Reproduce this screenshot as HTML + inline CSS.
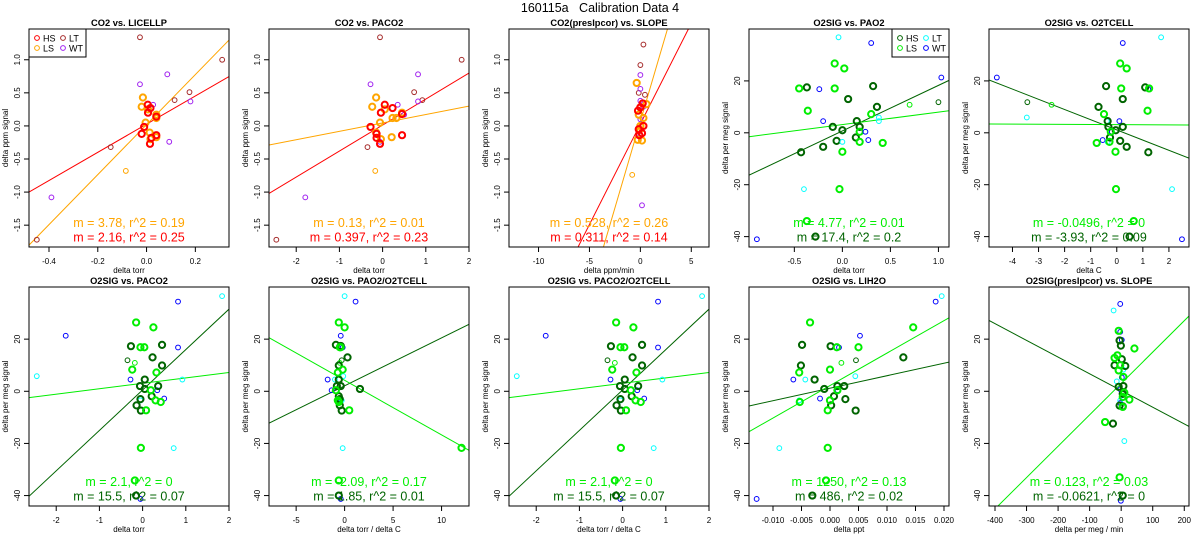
<!DOCTYPE html>
<html><head><meta charset="utf-8"><style>
html,body{margin:0;padding:0;background:#fff;}
svg{display:block;font-family:"Liberation Sans",sans-serif;}
</style></head><body>
<svg id="chart" width="1200" height="550" viewBox="0 0 1200 550">
<text x="600" y="12" text-anchor="middle" font-size="12.5" style="white-space:pre">160115a   Calibration Data 4</text>
</svg>
<script>
// groups: 0 HS thick, 1 LS thick, 2 LT thin, 3 WT thin, 4 HS thin, 5 LS thin
const co2Colors = ['#ff0000','#ffa500','#a52a2a','#a020f0','#ff0000','#ffa500'];
const o2Colors = ['#006400','#00ee00','#00ffff','#0000ff','#006400','#00ee00'];
const co2Legend = ['#ff0000','#ffa500','#a52a2a','#a020f0'];
const o2Legend = ['#006400','#00ee00','#00ffff','#0000ff'];

const p1Points = [[-0.027,1.34,2],[0.31,1.0,2],[0.176,0.51,2],[0.115,0.39,2],[-0.147,-0.32,2],[-0.45,-1.72,2],
[-0.027,0.63,3],[0.085,0.78,3],[0.18,0.37,3],[0.027,0.32,3],[0.093,-0.24,3],[-0.39,-1.08,3],
[-0.015,0.43,1],[-0.02,0.29,1],[0.006,0.25,1],[0.04,0.17,1],[0.04,0.12,1],[-0.004,0.05,1],[0.0125,-0.1,1],[0.016,-0.2,1],[0.04,-0.17,1],[-0.085,-0.68,5],
[0.005,0.32,0],[0.016,0.27,0],[0.006,0.2,0],[0.04,0.14,0],[-0.01,-0.015,0],[-0.02,-0.12,0],[0.014,-0.27,0],[0.04,-0.14,0],[0.02,-0.18,0]];
const p2Points = [[-0.06,1.34,2],[1.83,1.0,2],[0.73,0.51,2],[0.92,0.39,2],[-0.35,-0.32,2],[-2.46,-1.72,2],
[-0.28,0.63,3],[0.82,0.78,3],[0.82,0.37,3],[0.35,0.32,3],[0.5,0.17,3],[-0.06,-0.24,3],[-1.79,-1.08,3],
[-0.15,0.43,1],[-0.24,0.29,1],[0.05,0.25,1],[0.23,0.12,1],[0.32,0.12,1],[-0.06,0.05,1],[-0.15,-0.1,1],[-0.04,-0.2,1],[0.21,-0.17,1],[0.45,0.2,1],[-0.17,-0.68,5],
[0.05,0.32,0],[0.23,0.27,0],[-0.04,0.2,0],[0.45,0.18,0],[-0.28,-0.015,0],[-0.14,-0.12,0],[-0.06,-0.27,0],[0.45,-0.14,0],[-0.14,-0.18,0]];
const p3Points = [[0.3,1.23,2],[0,0.92,2],[-0.16,0.5,2],[0.45,0.47,2],
[0,0.77,3],[0,0.56,3],[0,0.38,3],[0.3,0.29,3],[0,0.1,3],[0,-0.15,3],[0.16,-1.2,3],
[-0.36,0.65,1],[0.6,0.33,1],[0,0.28,1],[0.3,0.12,1],[-0.16,0.17,1],[-0.1,-0.06,1],[-0.26,-0.21,1],[0.16,-0.22,1],[0,0,1],[-0.8,-0.74,5],
[0.23,0.34,0],[-0.23,0.23,0],[0.3,0,0],[-0.16,-0.05,0],[0.16,-0.11,0],[-0.1,-0.14,0],[0,0.28,0]];
const p4Points = [[-0.37,17.5,0],[0.32,18,0],[0.06,13,0],[0.36,10,0],[0.15,4.5,0],[-0.1,2.3,0],[0.18,2.3,0],[0,1,0],[0.14,-1.8,0],[-0.06,-3.1,0],[-0.2,-5.4,0],[-0.43,-7.5,0],[-0.28,-40,0],
[-0.08,26.7,1],[0.02,24.8,1],[-0.45,17.1,1],[-0.08,17.1,1],[-0.36,8.5,1],[0.3,7.2,1],[0.18,0.4,1],[0.18,-3.5,1],[0.42,-3.9,1],[0,-7.3,1],[-0.03,-21.7,1],[-0.37,-34,1],
[-0.04,36.8,2],[0.38,5.9,2],[0.38,4.5,2],[0,-3.5,2],[-0.4,-21.7,2],[1.0,11.8,4],[0.7,10.8,5],
[0.3,34.6,3],[1.03,21.3,3],[-0.24,16.8,3],[-0.2,4.5,3],[0.24,0.4,3],[0.27,-2.8,3],[-0.89,-41,3]];
const p5Points = [[-4.6,21.3,3],[0.23,34.6,3],[1.21,16.8,3],[0.1,4.5,3],[-0.19,0.4,3],[-0.54,-2.8,3],[2.5,-41,3],
[1.7,36.8,2],[-3.45,5.9,2],[-0.38,4.5,2],[-0.35,-3.5,2],[2.12,-21.7,2],[-3.43,11.8,4],[-2.5,10.8,5],
[-0.41,18,0],[1.09,17.5,0],[0.23,13,0],[-0.7,10,0],[-0.35,4.5,0],[-0.32,2.3,0],[0.23,2.3,0],[-0.04,1,0],[-0.26,-1.8,0],[0.13,-3.1,0],[0.38,-5.4,0],[1.21,-7.5,0],[0.49,-40,0],
[0.13,26.7,1],[0.38,24.8,1],[0.17,17.1,1],[1.24,17.1,1],[1.18,8.5,1],[-0.49,7.2,1],[-0.23,0.4,1],[-0.28,-3.5,1],[-0.77,-3.9,1],[-0.05,-7.3,1],[-0.03,-21.7,1],[0.65,-34,1]];
const p6Points = [[-1.78,21.3,3],[0.82,34.4,3],[0.82,16.8,3],[-0.28,4.5,3],[0.34,0.4,3],[0.5,-2.8,3],[-0.05,-41.3,3],
[1.84,36.5,2],[-2.45,5.8,2],[0.92,4.5,2],[-0.05,-3.5,2],[0.72,-21.8,2],[-0.35,11.9,4],[-0.18,10.9,5],
[-0.27,17.3,0],[0.45,17.8,0],[0.23,13,0],[0.45,9.9,0],[0.05,4.5,0],[-0.06,2,0],[0.36,2,0],[0.05,0.9,0],[0.21,-1.9,0],[-0.05,-3,0],[-0.14,-5.4,0],[-0.04,-7.4,0],[-0.15,-40,0],
[-0.15,26.4,1],[0.25,24.5,1],[-0.05,16.9,1],[0.04,16.9,1],[-0.24,8.3,1],[0.32,7.2,1],[0.19,0.4,1],[0.3,-3.5,1],[0.42,-4.1,1],[0.08,-7.3,1],[-0.04,-21.7,1],[-0.18,-34.2,1]];
const p7Points = [[-0.4,21.3,3],[1.13,34.4,3],[-0.2,16.8,3],[-1.75,4.5,3],[-1.34,0.4,3],[-0.6,-2.8,3],[-0.4,-41.3,3],
[0,36.5,2],[-0.14,5.8,2],[-1.0,4.5,2],[-0.3,-3.5,2],[-0.2,-21.8,2],[-0.3,11.9,4],[-0.5,10.9,5],
[-0.9,17.8,0],[-0.4,17.4,0],[0.3,13,0],[-0.6,9.9,0],[-0.6,4.5,0],[-0.8,2,0],[-0.4,2,0],[1.58,0.9,0],[-0.6,-1.9,0],[-0.5,-3,0],[-0.5,-5.4,0],[-0.3,-7.4,0],[-0.6,-40,0],
[-0.6,26.4,1],[0,24.5,1],[-0.5,16.9,1],[-0.4,16.9,1],[-0.2,8.3,1],[-0.7,7.2,1],[-0.9,0.4,1],[-0.7,-3.5,1],[-0.6,-4.1,1],[0.48,-7.3,1],[12.06,-21.7,1],[-0.6,-34.2,1]];
const p9Points = [[0.00526,21.3,3],[0.01854,34.4,3],[0.00158,16.8,3],[-0.00643,4.5,3],[0.00135,0.4,3],[-0.00175,-2.8,3],[-0.01287,-41.3,3],
[0.0196,36.5,2],[0.00444,5.8,2],[-0.00433,4.5,2],[-0.0054,-3.5,2],[-0.00889,-21.8,2],[0.00456,11.9,4],[0.002,10.9,5],
[0.0001,17.3,0],[-0.0049,17.8,0],[0.01287,13,0],[-0.0051,9.9,0],[-0.0027,4.5,0],[0.0013,2,0],[0.0025,2,0],[-0.001,0.9,0],[0.0007,-1.9,0],[0.0027,-3,0],[0.0002,-5.4,0],[0.0045,-7.4,0],[-0.0031,-40,0],
[-0.0035,26.4,1],[0.0146,24.5,1],[0.0012,16.9,1],[0.005,16.9,1],[-0.0054,7.2,1],[0,8.3,1],[0.0013,0.4,1],[0,-3.5,1],[-0.0053,-4.1,1],[-0.0004,-7.3,1],[-0.0004,-21.7,1],[-0.0007,-34.2,1]];
const p10Points = [[-3,33.5,3],[-3,22.8,3],[2,19.7,3],[2,5.3,3],[-3,0.8,3],[-3,-4.5,3],[-1,-42,3],
[-24,31,2],[7,8.3,2],[-14,3.8,2],[-3,-3.5,2],[10,-19.1,2],
[-5,19.5,0],[-1,17.5,0],[2,12.3,0],[-21,10,0],[13,9.7,0],[-8,1.7,0],[7,2,0],[5,-1,0],[-5,-5.5,0],[5,-5.8,0],[-26,-12.4,0],[5,-40,0],
[-8,23.2,1],[42,16.4,1],[-12,13.8,1],[-21,12.8,1],[-3,10,1],[7,5.5,1],[10,-0.5,1],[26,-3.2,1],[5,-2.2,1],[-51,-11.8,1],[-5,-33,1],[-8,8,1],[5,-6,1]];

// fit lines: [slope, intercept, colorIndex]
const p1Fits = [[2.13,0.027,0],[3.78,0.02,1]];
const p2Fits = [[0.393,0.013,0],[0.127,0.045,1]];
const p3Fits = [[0.304,0.03,0],[0.524,0.07,1]];
const p4Fits = [[17.55,0.72,0],[4.8,3.16,1]];
const p5Fits = [[-3.93,1.12,0],[-0.05,3.15,1]];
const p6Fits = [[15.5,0.5,0],[2.08,3.05,1]];
const p7Fits = [[1.84,2.1,0],[-2.095,4.22,1]];
const p9Fits = [[479,1.18,0],[1245,2.2,1]];
const p10Fits = [[-0.0641,0.3,0],[0.1203,3.0,1]];

const p1Labels = ['m = 3.78, r^2 = 0.19','m = 2.16, r^2 = 0.25'];
const p2Labels = ['m = 0.13, r^2 = 0.01','m = 0.397, r^2 = 0.23'];
const p3Labels = ['m = 0.528, r^2 = 0.26','m = 0.311, r^2 = 0.14'];
const p4Labels = ['m = 4.77, r^2 = 0.01','m = 17.4, r^2 = 0.2'];
const p5Labels = ['m = -0.0496, r^2 = 0','m = -3.93, r^2 = 0.09'];
const p6Labels = ['m = 2.1, r^2 = 0','m = 15.5, r^2 = 0.07'];
const p7Labels = ['m = -2.09, r^2 = 0.17','m = 1.85, r^2 = 0.01'];
const p9Labels = ['m = 1250, r^2 = 0.13','m = 486, r^2 = 0.02'];
const p10Labels = ['m = 0.123, r^2 = 0.03','m = -0.0621, r^2 = 0'];

const co2YTicks = [-1.5,-1.0,-0.5,0.0,0.5,1.0];
const co2YTickLabels = ['-1.5','-1.0','-0.5','0.0','0.5','1.0'];
const o2YTicks = [-40,-20,0,20];
const o2YTickLabels = ['-40','-20','0','20'];
const p1XTicks = [-0.4,-0.2,0,0.2]; const p1XTickLabels = ['-0.4','-0.2','0.0','0.2'];
const p2XTicks = [-2,-1,0,1,2]; const p2XTickLabels = ['-2','-1','0','1','2'];
const p3XTicks = [-10,-5,0,5]; const p3XTickLabels = ['-10','-5','0','5'];
const p4XTicks = [-0.5,0,0.5,1.0]; const p4XTickLabels = ['-0.5','0.0','0.5','1.0'];
const p5XTicks = [-4,-3,-2,-1,0,1,2]; const p5XTickLabels = ['-4','-3','-2','-1','0','1','2'];
const p7XTicks = [-5,0,5,10]; const p7XTickLabels = ['-5','0','5','10'];
const p9XTicks = [-0.01,-0.005,0,0.005,0.01,0.015,0.02]; const p9XTickLabels = ['-0.010','-0.005','0.000','0.005','0.010','0.015','0.020'];
const p10XTicks = [-400,-300,-200,-100,0,100,200]; const p10XTickLabels = ['-400','-300','-200','-100','0','100','200'];

const svg = document.getElementById('chart');
const NS = 'http://www.w3.org/2000/svg';
function mk(tag, attrs, parent){const e=document.createElementNS(NS,tag);for(const k in attrs)e.setAttribute(k,attrs[k]);(parent||svg).appendChild(e);return e;}

const colX = [29,269,509,749,989];
const rowY = [29,287];
const PW = 200, PH = [218,219];

function drawPanel(c){
  const x0=colX[c.col], y0=rowY[c.row], h=PH[c.row];
  const g = mk('g',{});
  
  
  const sx = v => x0 + (v - c.xlim[0])/(c.xlim[1]-c.xlim[0])*PW;
  const sy = v => y0 + h - (v - c.ylim[0])/(c.ylim[1]-c.ylim[0])*h;
  const cols = c.co2 ? co2Colors : o2Colors;
  const clipId = 'clip'+c.name;
  const cp = mk('clipPath',{id:clipId},g);
  mk('rect',{x:x0,y:y0,width:PW,height:h},cp);
  const t = mk('text',{x:x0+PW/2,y:y0-3,'text-anchor':'middle','font-size':'9.3','font-weight':'bold'},g);
  t.textContent = c.title;
  
  
  c.yt.forEach((v,i)=>{
    const y=sy(v);
    const tk = mk('line',{x1:x0-5,x2:x0,y1:y,y2:y,stroke:'#000','stroke-width':1},g);
    
    
    const lb = mk('text',{x:0,y:0,transform:`translate(${x0-9},${y}) rotate(-90)`,'text-anchor':'middle','font-size':'8'},g);
    lb.textContent = c.ytl[i];
    
    
  });
  mk('line',{x1:x0,x2:x0,y1:sy(c.yt[0]),y2:sy(c.yt[c.yt.length-1]),stroke:'#000'},g);
  c.xt.forEach((v,i)=>{
    const x=sx(v);
    const tk = mk('line',{x1:x,x2:x,y1:y0+h,y2:y0+h+5,stroke:'#000','stroke-width':1},g);
    
    
    const lb = mk('text',{x:x,y:y0+h+17,'text-anchor':'middle','font-size':'8'},g);
    lb.textContent = c.xtl[i];
    
    
  });
  mk('line',{x1:sx(c.xt[0]),x2:sx(c.xt[c.xt.length-1]),y1:y0+h,y2:y0+h,stroke:'#000'},g);
  const xl = mk('text',{x:x0+PW/2,y:y0+h+26,'text-anchor':'middle','font-size':'8'},g);
  xl.textContent = c.xlab;
  
  
  const yl = mk('text',{x:0,y:0,transform:`translate(${x0-21},${y0+h/2}) rotate(-90)`,'text-anchor':'middle','font-size':'8'},g);
  yl.textContent = c.ylab;
  
  
  const pg = mk('g',{'clip-path':`url(#${clipId})`},g);
  c.fits.forEach(f=>{
    const xa=c.xlim[0], xb=c.xlim[1];
    const ln = mk('line',{x1:sx(xa),y1:sy(f[0]*xa+f[1]),x2:sx(xb),y2:sy(f[0]*xb+f[1]),stroke:cols[f[2]],'stroke-width':1},pg);
    
    
  });
  const cl = c.co2 ? ['#ffa500','#ff0000'] : ['#00ee00','#006400'];
  c.labels.forEach((s,i)=>{
    const tx = mk('text',{x:x0+PW/2,y:y0+h-20+i*14.5,'text-anchor':'middle','font-size':'12.5',fill:cl[i]},g);
    tx.textContent = s;
    
    
  });
  c.pts.forEach(p=>{
    const thick = p[2]<=1;
    const pt = mk('circle',{cx:sx(p[0]),cy:sy(p[1]),r:thick?3.1:2.4,fill:'none',stroke:cols[p[2]],'stroke-width':thick?2:1},pg);
    
    
  });
  mk('rect',{x:x0,y:y0,width:PW,height:h,fill:'none',stroke:'#000','stroke-width':1},g);
  if(c.legend){
    const lx = c.legendRight ? x0+PW-57 : x0;
    const lg = mk('g',{},g);
    
    
    mk('rect',{x:lx,y:y0,width:57,height:28,fill:'#fff',stroke:'#000'},lg);
    const names=['HS','LS','LT','WT'];
    const lc = c.co2 ? co2Legend : o2Legend;
    names.forEach((n,i)=>{
      const cx = lx+8+(i>=2?26:0), cy = y0+9+(i%2)*10;
      mk('circle',{cx:cx,cy:cy,r:2.4,fill:'none',stroke:lc[i]},lg);
      const lt = mk('text',{x:cx+6,y:cy+3.5,'font-size':'9'},lg);
      lt.textContent = n;
      
      
    });
  }
}

const co2Y = [-1.83,1.465], o2Y = [-44,40];
drawPanel({name:'panel-co2-licellp',col:0,row:0,co2:true,legend:true,title:'CO2 vs. LICELLP',xlab:'delta torr',ylab:'delta ppm signal',xlim:[-0.482,0.338],ylim:co2Y,xt:p1XTicks,xtl:p1XTickLabels,yt:co2YTicks,ytl:co2YTickLabels,pts:p1Points,fits:p1Fits,labels:p1Labels});
drawPanel({name:'panel-co2-paco2',col:1,row:0,co2:true,title:'CO2 vs. PACO2',xlab:'delta torr',ylab:'delta ppm signal',xlim:[-2.63,2.0],ylim:co2Y,xt:p2XTicks,xtl:p2XTickLabels,yt:co2YTicks,ytl:co2YTickLabels,pts:p2Points,fits:p2Fits,labels:p2Labels});
drawPanel({name:'panel-co2-slope',col:2,row:0,co2:true,title:'CO2(presIpcor) vs. SLOPE',xlab:'delta ppm/min',ylab:'delta ppm signal',xlim:[-12.9,6.74],ylim:co2Y,xt:p3XTicks,xtl:p3XTickLabels,yt:co2YTicks,ytl:co2YTickLabels,pts:p3Points,fits:p3Fits,labels:p3Labels});
drawPanel({name:'panel-o2-pao2',col:3,row:0,legend:true,legendRight:true,title:'O2SIG vs. PAO2',xlab:'delta torr',ylab:'delta per meg signal',xlim:[-0.972,1.11],ylim:o2Y,xt:p4XTicks,xtl:p4XTickLabels,yt:o2YTicks,ytl:o2YTickLabels,pts:p4Points,fits:p4Fits,labels:p4Labels});
drawPanel({name:'panel-o2-o2tcell',col:4,row:0,title:'O2SIG vs. O2TCELL',xlab:'delta C',ylab:'delta per meg signal',xlim:[-4.9,2.77],ylim:o2Y,xt:p5XTicks,xtl:p5XTickLabels,yt:o2YTicks,ytl:o2YTickLabels,pts:p5Points,fits:p5Fits,labels:p5Labels});
drawPanel({name:'panel-o2-paco2',col:0,row:1,title:'O2SIG vs. PACO2',xlab:'delta torr',ylab:'delta per meg signal',xlim:[-2.63,2.0],ylim:o2Y,xt:p2XTicks,xtl:p2XTickLabels,yt:o2YTicks,ytl:o2YTickLabels,pts:p6Points,fits:p6Fits,labels:p6Labels});
drawPanel({name:'panel-o2-pao2-o2tcell',col:1,row:1,title:'O2SIG vs. PAO2/O2TCELL',xlab:'delta torr / delta C',ylab:'delta per meg signal',xlim:[-7.8,12.83],ylim:o2Y,xt:p7XTicks,xtl:p7XTickLabels,yt:o2YTicks,ytl:o2YTickLabels,pts:p7Points,fits:p7Fits,labels:p7Labels});
drawPanel({name:'panel-o2-paco2-o2tcell',col:2,row:1,title:'O2SIG vs. PACO2/O2TCELL',xlab:'delta torr / delta C',ylab:'delta per meg signal',xlim:[-2.63,2.0],ylim:o2Y,xt:p2XTicks,xtl:p2XTickLabels,yt:o2YTicks,ytl:o2YTickLabels,pts:p6Points,fits:p6Fits,labels:p6Labels});
drawPanel({name:'panel-o2-lih2o',col:3,row:1,title:'O2SIG vs. LIH2O',xlab:'delta ppt',ylab:'delta per meg signal',xlim:[-0.01421,0.02088],ylim:o2Y,xt:p9XTicks,xtl:p9XTickLabels,yt:o2YTicks,ytl:o2YTickLabels,pts:p9Points,fits:p9Fits,labels:p9Labels});
drawPanel({name:'panel-o2-slope',col:4,row:1,title:'O2SIG(presIpcor) vs. SLOPE',xlab:'delta per meg / min',ylab:'delta per meg signal',xlim:[-419,215],ylim:o2Y,xt:p10XTicks,xtl:p10XTickLabels,yt:o2YTicks,ytl:o2YTickLabels,pts:p10Points,fits:p10Fits,labels:p10Labels});
</script>
</body></html>
